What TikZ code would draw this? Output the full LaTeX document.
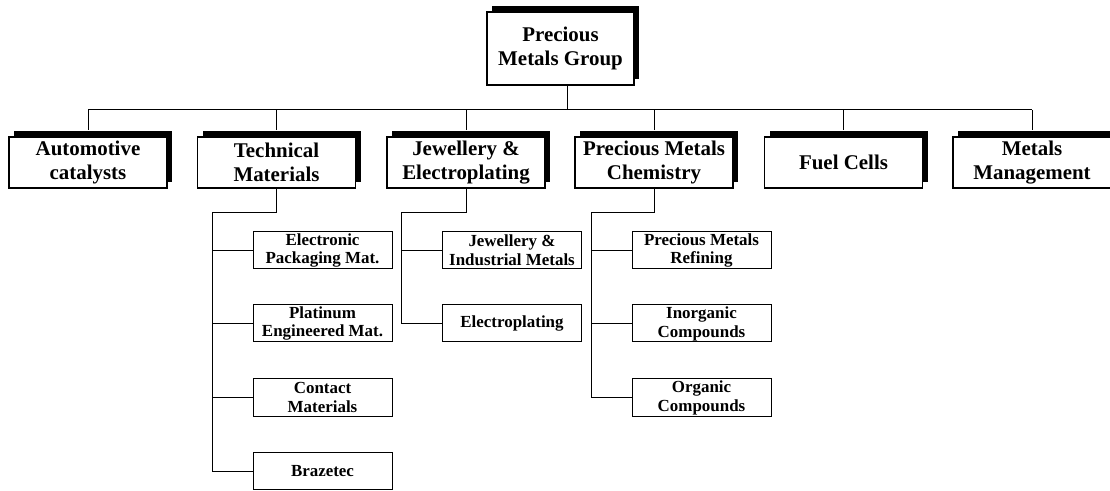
\documentclass[tikz,border=0pt]{standalone}
\usepackage{fontspec}
\setmainfont{Liberation Serif}
\usetikzlibrary{shadows}
\begin{document}
\begin{tikzpicture}[x=1bp,y=-1bp,
  link/.style={line width=1bp},
  unit/.style={draw, fill=white, line width=1.3bp, inner sep=0pt, align=center,
    minimum width=158bp, minimum height=51bp,
    font=\bfseries\fontsize{21}{23.5}\selectfont,
    drop shadow={shadow xshift=5bp, shadow yshift=6bp, opacity=1, fill=black}},
  dept/.style={draw, fill=white, line width=1bp, inner sep=0pt, align=center,
    minimum width=139bp, minimum height=37bp,
    font=\bfseries\fontsize{17}{19}\selectfont}]

% page area
\clip (0,0) rectangle (1110,491);
\fill[white] (0,0) rectangle (1110,491);

% group head
\node[unit, minimum width=147bp, minimum height=73bp] (group) at (560.5,48.5) {Precious\\Metals Group};

% divisions
\node[unit] (auto)   at (88,162.5)   {Automotive\\catalysts};
\node[unit] (tech)   at (276.5,162.5) {Technical\\Materials};
\node[unit] (jewel)  at (466,162.5)  {Jewellery \&\\Electroplating};
\node[unit] (chem)   at (654,162.5)  {Precious Metals\\Chemistry};
\node[unit] (fuel)   at (843.5,162.5) {Fuel Cells};
\node[unit] (metals) at (1032,162.5) {Metals\\Management};

% business units
\node[dept] (elec)  at (322.5,250.5) {Electronic\\Packaging Mat.};
\node[dept] (plat)  at (322.5,323.5) {Platinum\\Engineered Mat.};
\node[dept] (cont)  at (322.5,397.5) {Contact\\Materials};
\node[dept] (braz)  at (322.5,471)   {Brazetec};

\node[dept] (jind)  at (512,250.5)   {Jewellery \&\\Industrial Metals};
\node[dept] (eplat) at (512,323.5)   {Electroplating};

\node[dept] (refin) at (701.5,250.5) {Precious Metals\\Refining};
\node[dept] (inorg) at (701.5,323.5) {Inorganic\\Compounds};
\node[dept] (org)   at (701.5,397.5) {Organic\\Compounds};

% bus from the group head to the divisions
\coordinate (hub) at (567,110);
\draw[link] (group.south -| hub) -- (hub);
\draw[link] (auto.north |- hub) -- (metals.north |- hub);
\foreach \d in {auto,tech,jewel,chem,fuel,metals}
  \draw[link] (\d.north |- hub) -- ([yshift=6bp]\d.north);

% Technical Materials branch
\coordinate (tspine) at (212,213);
\draw[link] (tech.south) -- (tech.south |- tspine) -- (tspine) -- (tspine |- braz.west) -- (braz.west);
\foreach \u in {elec,plat,cont}
  \draw[link] (tspine |- \u.west) -- (\u.west);

% Jewellery & Electroplating branch
\coordinate (jspine) at (401,213);
\draw[link] (jewel.south) -- (jewel.south |- jspine) -- (jspine) -- (jspine |- eplat.west) -- (eplat.west);
\draw[link] (jspine |- jind.west) -- (jind.west);

% Precious Metals Chemistry branch
\coordinate (cspine) at (591,213);
\draw[link] (chem.south) -- (chem.south |- cspine) -- (cspine) -- (cspine |- org.west) -- (org.west);
\foreach \u in {refin,inorg}
  \draw[link] (cspine |- \u.west) -- (\u.west);
\end{tikzpicture}
\end{document}
